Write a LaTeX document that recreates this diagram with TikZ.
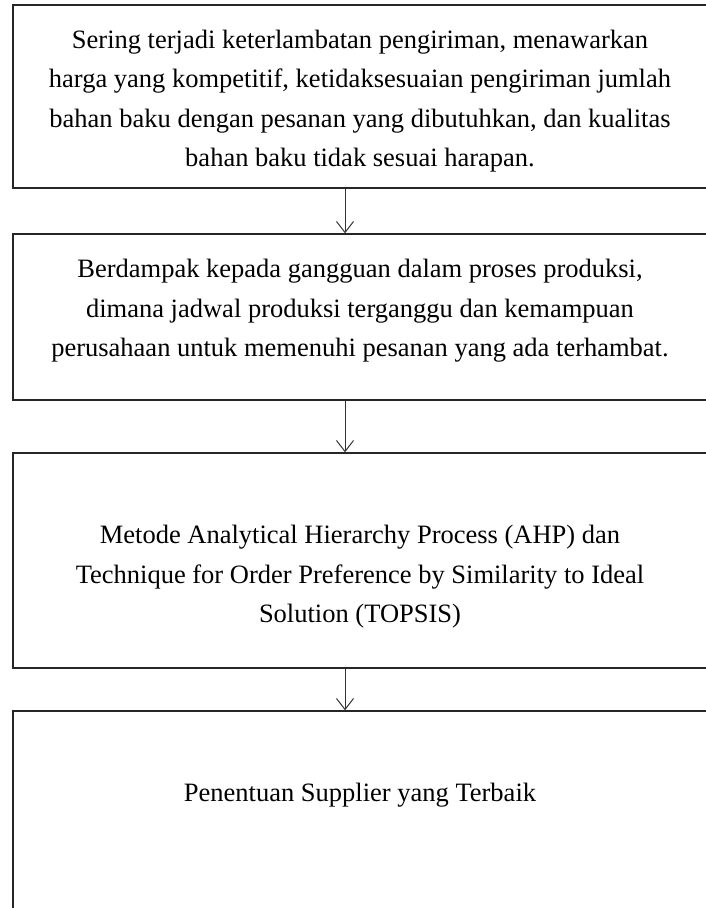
\documentclass[tikz,border=0pt]{standalone}
\usepackage{fontspec}
\setmainfont{Liberation Serif}
\usetikzlibrary{arrows.meta,
	positioning}

\tikzset{
	box/.style={draw=black!85, line width=1.4pt, minimum width=694pt, inner sep=0pt},
	txt/.style={align=center, inner sep=0pt, font=\fontsize{26.5}{39.5}\selectfont},
	flow/.style={draw=black!80, line width=1pt, -{Straight Barb[length=11pt,width=17pt,line width=1pt]}}
}

\begin{document}
\begin{tikzpicture}[x=1pt,y=-1pt]
	\useasboundingbox (0,0) rectangle (705,908);
	\fill[white] (0,0) rectangle (705,908);
	% boxes
	\node[box, minimum height=183pt] (kendala) at (360,96.5) {};
	\node[box, minimum height=166pt] (dampak) at (360,317) {};
	\node[box, minimum height=215pt] (metode) at (360,560.5) {};
	\node[box, minimum height=219pt] (hasil) at (360,820.5) {};
	% texts
	\node[txt] (t1) at (360,101) {Sering terjadi keterlambatan pengiriman, menawarkan\\harga yang kompetitif, ketidaksesuaian pengiriman jumlah\\bahan baku dengan pesanan yang dibutuhkan, dan kualitas\\bahan baku tidak sesuai harapan.};
	\node[txt] (t2) at (360,311) {Berdampak kepada gangguan dalam proses produksi,\\dimana jadwal produksi terganggu dan kemampuan\\perusahaan untuk memenuhi pesanan yang ada terhambat.};
	\node[txt] (t3) at (360,577) {Metode Analytical Hierarchy Process (AHP) dan\\Technique for Order Preference by Similarity to Ideal\\Solution (TOPSIS)};
	\node[txt] (t4) at (360,795) {Penentuan Supplier yang Terbaik};
	% arrows
	\coordinate (ax) at (345,0);
	\draw[flow] (kendala.south -| ax) -- (dampak.north -| ax);
	\draw[flow] (dampak.south -| ax) -- (metode.north -| ax);
	\draw[flow] (metode.south -| ax) -- (hasil.north -| ax);
\end{tikzpicture}
\end{document}
